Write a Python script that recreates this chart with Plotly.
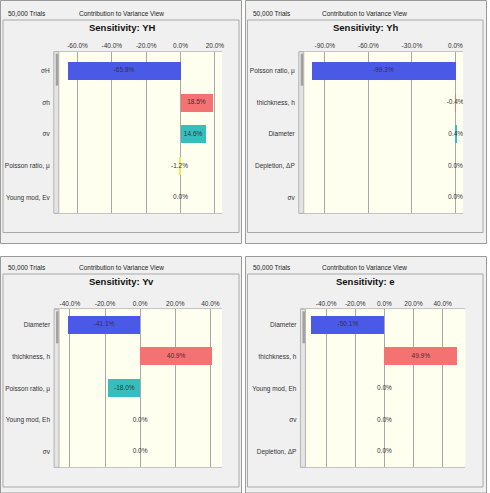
import plotly.graph_objects as go

W, H = 490, 493

# ---------------- data ----------------
yh_labels = ["σH", "σh", "σv", "Poisson ratio, μ", "Young mod, Ev"]
yh_values = [-65.8, 18.5, 14.6, -1.2, 0.0]
yh_ticks = [-60, -40, -20, 0, 20]

yh2_labels = ["Poisson ratio, μ", "thichkness, h", "Diameter", "Depletion, ΔP", "σv"]
yh2_values = [-99.3, -0.4, 0.4, 0.0, 0.0]
yh2_ticks = [-90, -60, -30, 0]

yv_labels = ["Diameter", "thichkness, h", "Poisson ratio, μ", "Young mod, Eh", "σv"]
yv_values = [-41.1, 40.9, -18.0, 0.0, 0.0]
yv_ticks = [-40, -20, 0, 20, 40]

e_labels = ["Diameter", "thichkness, h", "Young mod, Eh", "σv", "Depletion, ΔP"]
e_values = [-50.1, 49.9, 0.0, 0.0, 0.0]
e_ticks = [-40, -20, 0, 20, 40]

titles = ["Sensitivity: YH", "Sensitivity: Yh", "Sensitivity: Yv", "Sensitivity: e"]
trials_text = "50,000 Trials"
view_text = "Contribution to Variance View"

rank_colors = ["#4a5ae6", "#f57272", "#36bebe", "#ecec4c", "#b0b0b0"]

series = [
    (yh_labels, yh_values, yh_ticks),
    (yh2_labels, yh2_values, yh2_ticks),
    (yv_labels, yv_values, yv_ticks),
    (e_labels, e_values, e_ticks),
]

# ---------------- layout geometry (pixels) ----------------
panels = [
    dict(outer=(0.5, 0.5, 242.5, 243.5), inner=(3, 20, 240, 232.5),
         plot=(54, 51.7, 223, 213.3), xr=(-73.8, 24.2), yr=(4.49, -0.59),
         title=(122, 28), view=(121.5, 13), trials=(6, 13)),
    dict(outer=(246.5, 0.5, 488.5, 243.5), inner=(248.5, 20, 485, 232.5),
         plot=(300, 51.7, 465, 213.3), xr=(-107.96, 5.28), yr=(4.49, -0.59),
         title=(367, 28), view=(366, 13), trials=(252, 13)),
    dict(outer=(0.5, 256.5, 242.5, 493), inner=(3, 274, 240, 487),
         plot=(54.3, 309.3, 222.7, 467.3), xr=(-49, 46.5), yr=(4.49, -0.49),
         title=(122, 281), view=(121.7, 267), trials=(6, 267)),
    dict(outer=(246.5, 256.5, 488.5, 493), inner=(248.5, 274, 485, 487),
         plot=(301.7, 309.3, 467.3, 467.3), xr=(-57.6, 55.6), yr=(4.49, -0.49),
         title=(367, 281), view=(366, 267), trials=(252, 267)),
]


def px(x):
    return x / W


def py(y):
    return 1 - y / H


FONT = "Liberation Sans, Arial, sans-serif"
fig = go.Figure()
shapes = []
annotations = []
layout = {}

for i, ((labels, values, ticks), p) in enumerate(zip(series, panels)):
    n = "" if i == 0 else str(i + 1)
    xa, ya = "x" + n, "y" + n
    colors = rank_colors[:len(values)]
    fig.add_trace(go.Bar(
        x=values, y=labels, orientation="h", width=0.57,
        marker=dict(color=colors, line=dict(width=0)),
        xaxis=xa, yaxis=ya, showlegend=False, hoverinfo="skip",
    ))
    fig.add_trace(go.Scatter(
        x=[v / 2 for v in values], y=labels, mode="text",
        text=[f"{v:.1f}%" for v in values],
        textfont=dict(family=FONT, size=6.5, color="#333333"),
        xaxis=xa, yaxis=ya, showlegend=False, hoverinfo="skip",
    ))
    x0, y0, x1, y1 = p["plot"]
    layout["xaxis" + n] = dict(
        domain=[px(x0), px(x1)], anchor=ya, range=list(p["xr"]), side="top",
        tickmode="array", tickvals=ticks, ticktext=[f"{t:.1f}%" for t in ticks],
        ticks="", showgrid=True, gridcolor="#a8a8a8", gridwidth=1,
        zeroline=False, showline=True, mirror=True, linecolor="#c4c4c4", linewidth=1,
        tickfont=dict(family=FONT, size=6.5, color="#333333"), fixedrange=True,
    )
    layout["yaxis" + n] = dict(
        domain=[py(y1), py(y0)], anchor=xa, range=list(p["yr"]), type="category",
        ticks="", showgrid=False, zeroline=False, showline=False,
        tickfont=dict(family=FONT, size=6.5, color="#333333"),
        ticklabelstandoff=3, fixedrange=True,
    )

    ox0, oy0, ox1, oy1 = p["outer"]
    shapes.append(dict(type="rect", xref="paper", yref="paper", layer="below",
                       x0=px(ox0), x1=px(ox1), y0=py(oy1), y1=py(oy0),
                       fillcolor="#f0f0f0", line=dict(color="#9a9a9a", width=1)))
    ix0, iy0, ix1, iy1 = p["inner"]
    shapes.append(dict(type="rect", xref="paper", yref="paper", layer="below",
                       x0=px(ix0), x1=px(ix1), y0=py(iy1), y1=py(iy0),
                       fillcolor="rgba(0,0,0,0)", line=dict(color="#a8a8a8", width=1)))
    shapes.append(dict(type="rect", xref="paper", yref="paper", layer="below",
                       x0=px(x0), x1=px(x1), y0=py(y1), y1=py(y0),
                       fillcolor="#fffff0", line=dict(width=0)))
    # left scroll strip
    shapes.append(dict(type="rect", xref="paper", yref="paper", layer="above",
                       x0=px(x0), x1=px(x0 + 5), y0=py(y1), y1=py(y0),
                       fillcolor="#e4e4e4", line=dict(color="#b4b4b4", width=1)))
    shapes.append(dict(type="rect", xref="paper", yref="paper", layer="above",
                       x0=px(x0 + 2), x1=px(x0 + 4.5), y0=py(y0 + 34), y1=py(y0 + 2),
                       fillcolor="#a0a0a0", line=dict(width=0)))

    tx, ty = p["trials"]
    annotations.append(dict(x=px(tx), y=py(ty), xref="paper", yref="paper",
                            text=trials_text, showarrow=False, xanchor="left",
                            yanchor="middle", font=dict(family=FONT, size=6.5, color="#222222")))
    vx, vy = p["view"]
    annotations.append(dict(x=px(vx), y=py(vy), xref="paper", yref="paper",
                            text=view_text, showarrow=False, xanchor="center",
                            yanchor="middle", font=dict(family=FONT, size=6.5, color="#222222")))
    hx, hy = p["title"]
    annotations.append(dict(x=px(hx), y=py(hy), xref="paper", yref="paper",
                            text="<b>" + titles[i] + "</b>", showarrow=False, xanchor="center",
                            yanchor="middle", font=dict(family=FONT, size=9.5, color="#111111")))

fig.update_layout(
    width=W, height=H, margin=dict(l=0, r=0, t=0, b=0),
    paper_bgcolor="#ffffff", plot_bgcolor="rgba(0,0,0,0)",
    shapes=shapes, annotations=annotations, hovermode=False,
    bargap=0, **layout,
)

fig.write_html("out.html", config={"displayModeBar": False})
